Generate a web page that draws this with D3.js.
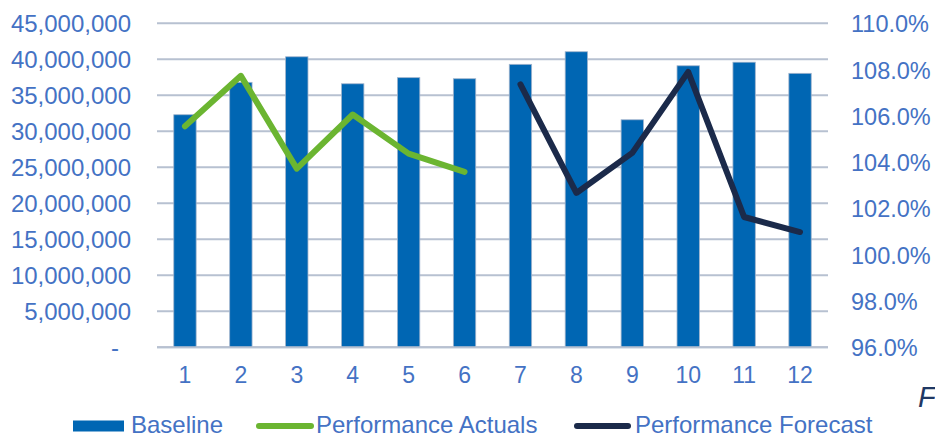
<!DOCTYPE html>
<html>
<head>
<meta charset="utf-8">
<script src="https://cdn.jsdelivr.net/npm/d3@7"></script>
<style>
  html, body { margin: 0; padding: 0; background: #fff; }
  svg { display: block; }
  text { font-family: "Liberation Sans", Arial, sans-serif; }
</style>
</head>
<body>
<svg id="chart" width="935" height="438"></svg>
<script>
// Monthly periods
const months = [1, 2, 3, 4, 5, 6, 7, 8, 9, 10, 11, 12];
// Baseline volume per month (left axis)
const baseline = [32300000, 36800000, 40350000, 36600000, 37450000, 37300000,
                  39300000, 41050000, 31600000, 39100000, 39600000, 38050000];
// Performance actuals, months 1–6 (right axis, %)
const actualMonths = [1, 2, 3, 4, 5, 6];
const actuals = [105.55, 107.73, 103.72, 106.06, 104.37, 103.58];
// Performance forecast, months 7–12 (right axis, %)
const forecastMonths = [7, 8, 9, 10, 11, 12];
const forecast = [107.36, 102.67, 104.40, 107.90, 101.63, 100.98];
// Axis ticks
const leftTicks = [0, 5000000, 10000000, 15000000, 20000000, 25000000, 30000000, 35000000, 40000000, 45000000];
const rightTicks = [96, 98, 100, 102, 104, 106, 108, 110];

const svg = d3.select("#chart");
const plot = { left: 157, right: 828, top: 23.3, bottom: 347.3 };

const textColor = "#4472C4";
const gridColor = "#B7C1D1";
const barColor = "#0066B3";
const greenColor = "#6BB531";
const navyColor = "#1B2A4A";

const x = d3.scaleBand().domain(months).range([plot.left, plot.right]).paddingInner(0.6).paddingOuter(0.3);
const yL = d3.scaleLinear().domain([0, 45000000]).range([plot.bottom, plot.top]);
const yR = d3.scaleLinear().domain([96, 110]).range([plot.bottom, plot.top]);

// gridlines
svg.append("g").selectAll("line").data(leftTicks).join("line")
  .attr("x1", plot.left).attr("x2", plot.right)
  .attr("y1", d => yL(d)).attr("y2", d => yL(d))
  .attr("stroke", gridColor).attr("stroke-width", 2);

// left axis
const fmtL = d => d === 0 ? "-" : d3.format(",")(d);
const leftAxis = d3.axisLeft(yL).tickValues(leftTicks).tickFormat(fmtL).tickSize(0).tickPadding(0);
svg.append("g").attr("transform", `translate(131,0)`).call(leftAxis)
  .call(g => g.select(".domain").remove())
  .call(g => g.selectAll("text").attr("fill", textColor).attr("font-size", 24)
    .attr("font-family", "Liberation Sans, Arial, sans-serif").attr("dy", "0.36em"))
  .call(g => g.selectAll("text").filter(d => d === 0).attr("dx", -12));

// right axis
const rightAxis = d3.axisRight(yR).tickValues(rightTicks).tickFormat(d => d.toFixed(1) + "%").tickSize(0).tickPadding(0);
svg.append("g").attr("transform", `translate(851,0)`).call(rightAxis)
  .call(g => g.select(".domain").remove())
  .call(g => g.selectAll("text").attr("fill", textColor).attr("font-size", 23.5)
    .attr("font-family", "Liberation Sans, Arial, sans-serif").attr("dy", "0.36em"));

// bottom axis labels
const bottomAxis = d3.axisBottom(x).tickSize(0).tickPadding(0);
svg.append("g").attr("transform", `translate(0,366)`).call(bottomAxis)
  .call(g => g.select(".domain").remove())
  .call(g => g.selectAll("text").attr("fill", textColor).attr("font-size", 23)
    .attr("font-family", "Liberation Sans, Arial, sans-serif").attr("dy", "0.72em"));

// bars
svg.append("g").selectAll("rect").data(months).join("rect")
  .attr("x", d => x(d))
  .attr("width", x.bandwidth())
  .attr("y", (d, i) => yL(baseline[i]))
  .attr("height", (d, i) => yL(0) - yL(baseline[i]))
  .attr("fill", barColor)
  .attr("stroke", "#9FB3CC").attr("stroke-width", 0.8);

// bottom axis line
svg.append("line").attr("x1", plot.left).attr("x2", plot.right)
  .attr("y1", yL(0)).attr("y2", yL(0))
  .attr("stroke", gridColor).attr("stroke-width", 2);

const cx = m => x(m) + x.bandwidth() / 2;

// performance lines
const line = d3.line().x(d => cx(d[0])).y(d => yR(d[1]));
svg.append("path").datum(actualMonths.map((m, i) => [m, actuals[i]]))
  .attr("d", line).attr("fill", "none").attr("stroke", greenColor)
  .attr("stroke-width", 6).attr("stroke-linecap", "round").attr("stroke-linejoin", "round");
svg.append("path").datum(forecastMonths.map((m, i) => [m, forecast[i]]))
  .attr("d", line).attr("fill", "none").attr("stroke", navyColor)
  .attr("stroke-width", 6).attr("stroke-linecap", "round").attr("stroke-linejoin", "round");

// legend
const leg = svg.append("g").attr("font-size", 24).attr("fill", textColor);
leg.append("rect").attr("x", 73).attr("y", 420.5).attr("width", 51).attr("height", 11).attr("fill", barColor);
leg.append("text").attr("x", 131).attr("y", 433).attr("fill", textColor).text("Baseline");
leg.append("line").attr("x1", 259).attr("x2", 311).attr("y1", 426).attr("y2", 426)
  .attr("stroke", greenColor).attr("stroke-width", 6).attr("stroke-linecap", "round");
leg.append("text").attr("x", 316).attr("y", 433).attr("fill", textColor).text("Performance Actuals");
leg.append("line").attr("x1", 577).attr("x2", 628).attr("y1", 426).attr("y2", 426)
  .attr("stroke", navyColor).attr("stroke-width", 6).attr("stroke-linecap", "round");
leg.append("text").attr("x", 635).attr("y", 433).attr("fill", textColor).text("Performance Forecast");

// trailing italic letter at the right edge
svg.append("text").attr("x", 918).attr("y", 407).attr("font-size", 29)
  .attr("font-style", "italic").attr("fill", "#1F3864").text("F");
</script>
</body>
</html>
